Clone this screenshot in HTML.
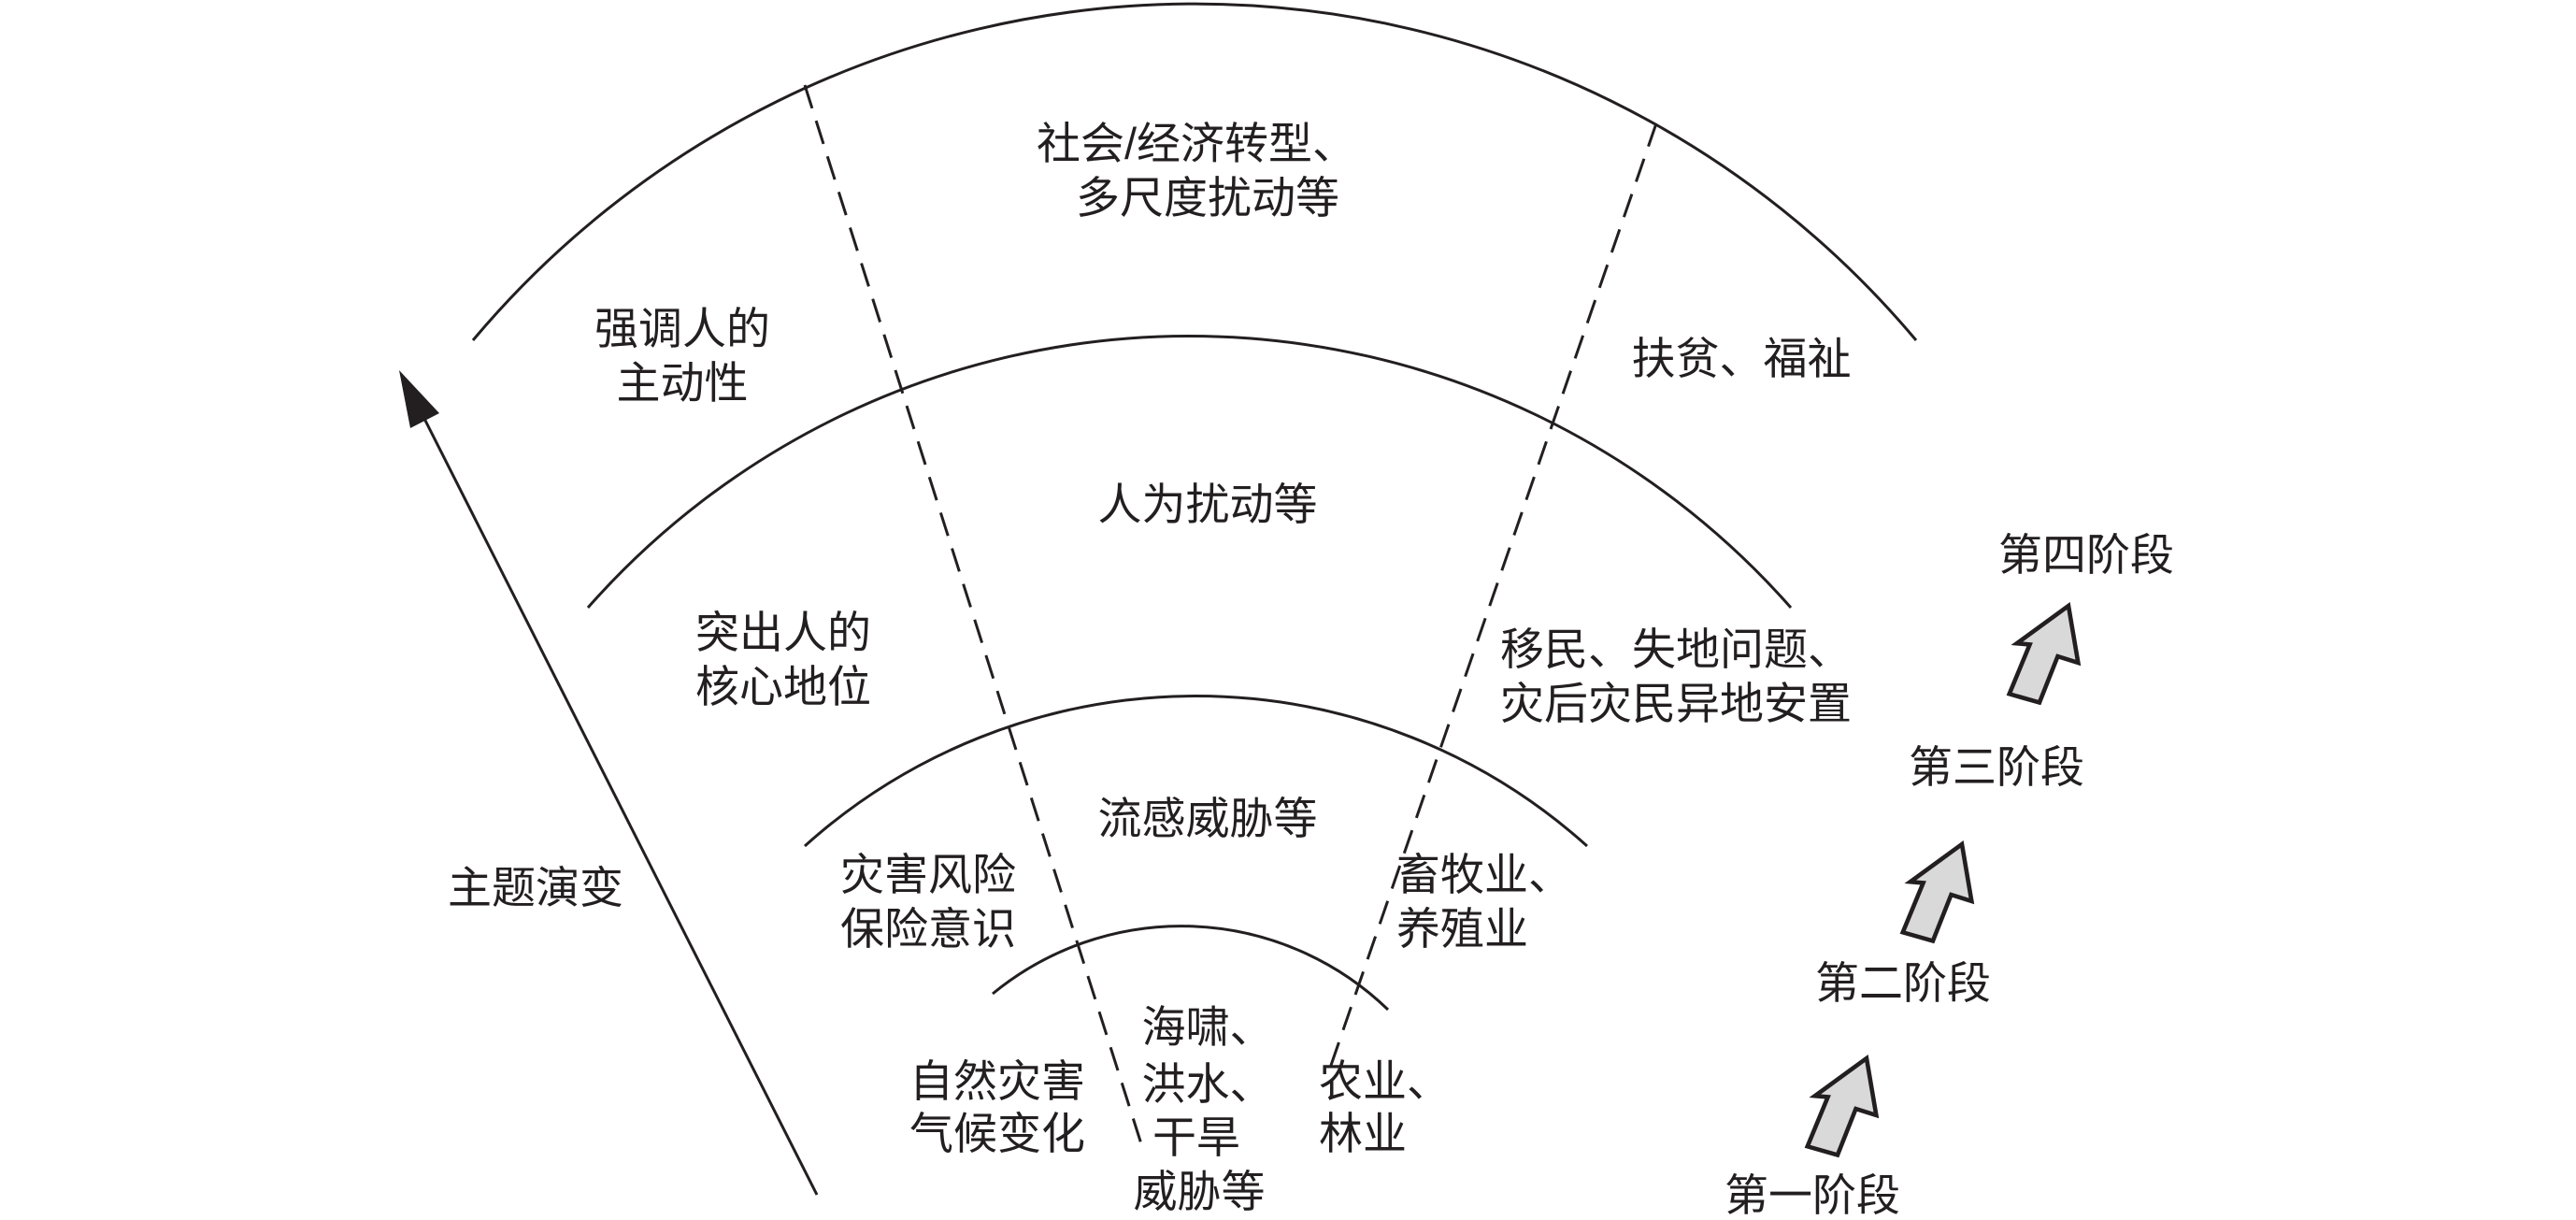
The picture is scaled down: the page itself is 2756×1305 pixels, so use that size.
<!DOCTYPE html>
<html><head><meta charset="utf-8"><style>
html,body{margin:0;padding:0;background:#fff;}
svg{display:block;}
text{font-family:"Liberation Sans","Noto Sans CJK SC",sans-serif;font-size:47px;fill:#231f20;}
</style></head><body>
<svg width="2756" height="1305" viewBox="0 0 2756 1305" xmlns="http://www.w3.org/2000/svg">
<g fill="none" stroke="#231f20" stroke-width="3">
<path d="M506,364 A1008,1008 0 0 1 2050,364"/>
<path d="M629,650 A858,858 0 0 1 1916,650"/>
<path d="M861,905 A626,626 0 0 1 1698,905"/>
<path d="M1062,1063 A318,318 0 0 1 1485,1080"/>
<path d="M861,91 L1223,1230" stroke-dasharray="26,14"/>
<path d="M1772,132 L1420,1151" stroke-dasharray="26,14"/>
<path d="M874,1278 L445,430"/>
</g>
<polygon points="427,396 470,442 439,458" fill="#231f20"/>
<g fill="#d9d9d9" stroke="#231f20" stroke-width="4" stroke-linejoin="miter">
<polygon transform="translate(2213,648) scale(1.15)" points="0,0 9,53 -10,47 -27,90 -55,82 -36,36 -48,35"/>
<polygon transform="translate(2099,903) scale(1.15)" points="0,0 9,53 -10,47 -27,90 -55,82 -36,36 -48,35"/>
<polygon transform="translate(1997,1132) scale(1.15)" points="0,0 9,53 -10,47 -27,90 -55,82 -36,36 -48,35"/>
</g>
<g text-anchor="middle">
<text x="1280" y="170">社会/经济转型、</text>
<text x="1292" y="228">多尺度扰动等</text>
<text x="730" y="368">强调人的</text>
<text x="730" y="426">主动性</text>
<text x="1863" y="400">扶贫、福祉</text>
<text x="1292" y="556">人为扰动等</text>
<text x="838" y="693">突出人的</text>
<text x="838" y="751">核心地位</text>
<text x="1292" y="892">流感威胁等</text>
<text x="993" y="952">灾害风险</text>
<text x="993" y="1010">保险意识</text>
<text x="1292" y="1115">海啸、</text>
<text x="1292" y="1176">洪水、</text>
<text x="1280" y="1233">干旱</text>
<text x="1283" y="1291">威胁等</text>
<text x="1067" y="1173">自然灾害</text>
<text x="1067" y="1229">气候变化</text>
<text x="573" y="966">主题演变</text>
<text x="2232" y="610">第四阶段</text>
<text x="2136" y="837">第三阶段</text>
<text x="2036" y="1068">第二阶段</text>
<text x="1939" y="1295">第一阶段</text>
</g>
<text x="1605" y="711">移民、失地问题、</text>
<text x="1605" y="769">灾后灾民异地安置</text>
<text x="1494" y="952">畜牧业、</text>
<text x="1494" y="1010">养殖业</text>
<text x="1411" y="1173">农业、</text>
<text x="1411" y="1229">林业</text>
</svg>
</body></html>
